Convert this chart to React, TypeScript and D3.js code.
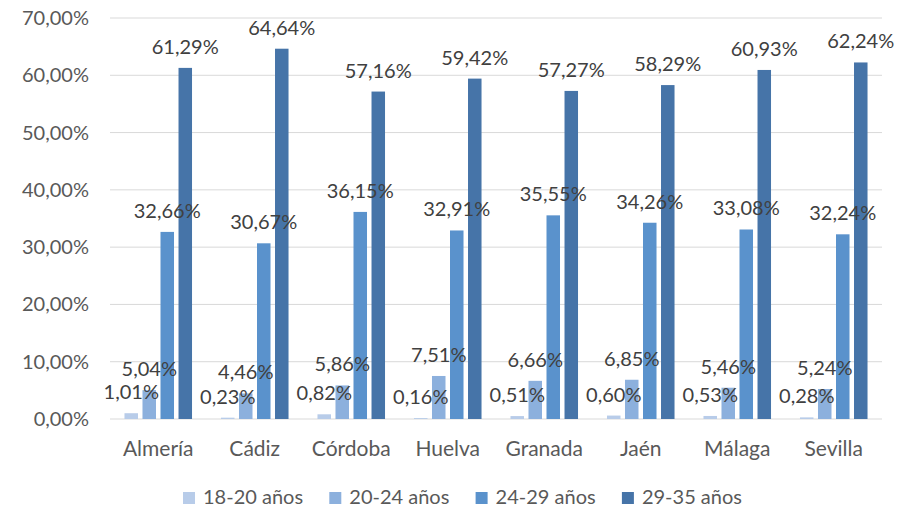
import React, { useEffect, useRef } from "react";
import * as d3 from "d3";

const provinces = ["Almería", "Cádiz", "Córdoba", "Huelva", "Granada", "Jaén", "Málaga", "Sevilla"];
const ageGroups = ["18-20 años", "20-24 años", "24-29 años", "29-35 años"];
const age18_20 = [1.01, 0.23, 0.82, 0.16, 0.51, 0.6, 0.53, 0.28];
const age20_24 = [5.04, 4.46, 5.86, 7.51, 6.66, 6.85, 5.46, 5.24];
const age24_29 = [32.66, 30.67, 36.15, 32.91, 35.55, 34.26, 33.08, 32.24];
const age29_35 = [61.29, 64.64, 57.16, 59.42, 57.27, 58.29, 60.93, 62.24];
const yTicks = [0, 10, 20, 30, 40, 50, 60, 70];
const colors = ["#b8cce9", "#8cb0dd", "#5a92cc", "#4674a8"];

const fmt = (v: number, d: number) => v.toFixed(d).replace(".", ",") + "%";

const App: React.FC = () => {
  const svgRef = useRef<SVGSVGElement | null>(null);

  useEffect(() => {
    if (!svgRef.current) return;
    const svg = d3.select(svgRef.current);
    svg.selectAll("*").remove();

    const font = "Lato, 'Open Sans', sans-serif";
    const series = [age18_20, age20_24, age24_29, age29_35];

    const x = d3.scaleBand().domain(provinces).range([110, 882]).paddingInner(0.3).paddingOuter(0.15);
    const xs = d3.scaleBand().domain(ageGroups).range([0, x.bandwidth()]).paddingInner(0.25);
    const y = d3.scaleLinear().domain([0, 70]).range([419, 18]);

    // gridlines
    svg
      .append("g")
      .selectAll("line")
      .data(yTicks)
      .enter()
      .append("line")
      .attr("x1", 110)
      .attr("x2", 882)
      .attr("y1", (d) => y(d))
      .attr("y2", (d) => y(d))
      .attr("stroke", "#d9d9d9")
      .attr("stroke-width", 1);

    // y labels
    svg
      .append("g")
      .selectAll("text")
      .data(yTicks)
      .enter()
      .append("text")
      .attr("x", 89)
      .attr("y", (d) => y(d))
      .attr("dy", "0.35em")
      .attr("text-anchor", "end")
      .attr("font-family", font)
      .attr("font-size", 20)
      .attr("fill", "#595959")
      .text((d) => fmt(d, 2));

    // bars
    const groups = svg
      .append("g")
      .selectAll("g")
      .data(provinces)
      .enter()
      .append("g")
      .attr("transform", (d) => `translate(${x(d)},0)`);

    ageGroups.forEach((g, si) => {
      groups
        .append("rect")
        .attr("x", xs(g)!)
        .attr("width", xs.bandwidth())
        .attr("y", (_, i) => y(series[si][i]))
        .attr("height", (_, i) => y(0) - y(series[si][i]))
        .attr("fill", colors[si]);
    });

    // data labels
    ageGroups.forEach((g, si) => {
      groups
        .append("text")
        .attr("x", xs(g)! + xs.bandwidth() / 2)
        .attr("y", (_, i) => y(series[si][i]) - 14)
        .attr("text-anchor", "middle")
        .attr("font-family", font)
        .attr("font-size", 20)
        .attr("fill", "#404040")
        .text((_, i) => fmt(series[si][i], 2));
    });

    // category labels
    svg
      .append("g")
      .selectAll("text")
      .data(provinces)
      .enter()
      .append("text")
      .attr("x", (d) => x(d)! + x.bandwidth() / 2)
      .attr("y", 456)
      .attr("text-anchor", "middle")
      .attr("font-family", font)
      .attr("font-size", 21)
      .attr("fill", "#595959")
      .text((d) => d);

    // legend
    const legend = svg
      .append("g")
      .selectAll("g")
      .data(ageGroups)
      .enter()
      .append("g")
      .attr("transform", (_, i) => `translate(${183 + i * 146.3},0)`);
    legend
      .append("rect")
      .attr("y", 492)
      .attr("width", 12)
      .attr("height", 12)
      .attr("fill", (_, i) => colors[i]);
    legend
      .append("text")
      .attr("x", 20)
      .attr("y", 504)
      .attr("font-family", font)
      .attr("font-size", 20)
      .attr("fill", "#595959")
      .text((d) => d);
  }, []);

  return (
    <div style={{ position: "fixed", left: 0, top: 0 }}>
      <svg ref={svgRef} width={897} height={509} style={{ display: "block", background: "#fff" }} />
    </div>
  );
};

export default App;
